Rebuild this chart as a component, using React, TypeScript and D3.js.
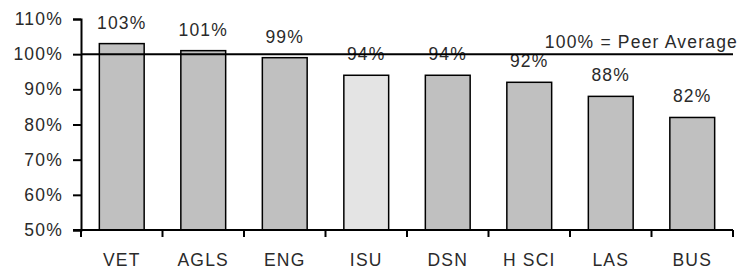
import React, { useEffect, useRef } from 'react'
import * as d3 from 'd3'

const colleges = ['VET', 'AGLS', 'ENG', 'ISU', 'DSN', 'H SCI', 'LAS', 'BUS']
const peerRatios = [103, 101, 99, 94, 94, 92, 88, 82]
const highlighted = ['ISU']
const yTicks = [50, 60, 70, 80, 90, 100, 110]
const peerLevel = 100
const peerLabel = '100% = Peer Average'

const App: React.FC = () => {
  const ref = useRef<SVGSVGElement | null>(null)

  useEffect(() => {
    if (!ref.current) {
      return
    }

    const width = 752
    const height = 271
    const margin = { top: 19, right: 19, bottom: 41, left: 81 }
    const chartWidth = width - margin.left - margin.right
    const chartHeight = height - margin.top - margin.bottom
    const font = '"Liberation Sans", Arial, sans-serif'
    const fontSize = 17.5
    const spacing = 1.2
    const ink = '#2a2a2a'

    const svg = d3.select(ref.current)
    svg.attr('viewBox', `0 0 ${width} ${height}`)
    svg.selectAll('*').remove()

    const xScale = d3
      .scaleBand()
      .domain(colleges)
      .range([0, chartWidth])
      .paddingInner(0.45)
      .paddingOuter(0.225)

    const yScale = d3.scaleLinear().domain([50, 110]).range([chartHeight, 0])

    const g = svg.append('g').attr('transform', `translate(${margin.left},${margin.top})`)

    // bars
    g.selectAll('rect.bar')
      .data(colleges)
      .enter()
      .append('rect')
      .attr('class', 'bar')
      .attr('x', (d) => xScale(d) ?? 0)
      .attr('y', (_, i) => yScale(peerRatios[i]))
      .attr('width', xScale.bandwidth())
      .attr('height', (_, i) => chartHeight - yScale(peerRatios[i]))
      .attr('fill', (d) => (highlighted.includes(d) ? '#e4e4e4' : '#c0c0c0'))
      .attr('stroke', '#000')
      .attr('stroke-width', 1.5)

    // value labels
    g.selectAll('text.value')
      .data(colleges)
      .enter()
      .append('text')
      .attr('class', 'value')
      .attr('x', (d) => (xScale(d) ?? 0) + xScale.bandwidth() / 2)
      .attr('y', (_, i) => yScale(peerRatios[i]) - 15)
      .attr('text-anchor', 'middle')
      .attr('font-family', font)
      .attr('font-size', fontSize)
      .attr('letter-spacing', spacing)
      .attr('fill', ink)
      .text((_, i) => `${peerRatios[i]}%`)

    // peer average line
    g.append('line')
      .attr('x1', 0)
      .attr('x2', chartWidth)
      .attr('y1', yScale(peerLevel))
      .attr('y2', yScale(peerLevel))
      .attr('stroke', '#000')
      .attr('stroke-width', 2)

    g.append('text')
      .attr('x', chartWidth + 5)
      .attr('y', yScale(peerLevel) - 6)
      .attr('text-anchor', 'end')
      .attr('font-family', font)
      .attr('font-size', fontSize)
      .attr('letter-spacing', spacing)
      .attr('fill', ink)
      .text(peerLabel)

    // y axis
    const yAxis = g
      .append('g')
      .call(
        d3
          .axisLeft(yScale)
          .tickValues(yTicks)
          .tickSize(8)
          .tickPadding(10)
          .tickFormat((d) => `${d}%`)
      )
    yAxis.select('.domain').attr('stroke', '#000').attr('stroke-width', 2)
    yAxis.selectAll('.tick line').attr('stroke', '#000').attr('stroke-width', 2)
    yAxis
      .selectAll('.tick text')
      .attr('font-family', font)
      .attr('font-size', fontSize)
      .attr('letter-spacing', spacing)
      .attr('fill', ink)

    // x axis with ticks at category boundaries
    const xAxisG = g.append('g').attr('transform', `translate(0,${chartHeight})`)
    xAxisG
      .append('line')
      .attr('x1', -8)
      .attr('x2', chartWidth)
      .attr('stroke', '#000')
      .attr('stroke-width', 2)

    xAxisG
      .selectAll('line.tick')
      .data(d3.range(colleges.length + 1))
      .enter()
      .append('line')
      .attr('class', 'tick')
      .attr('x1', (i) => i * xScale.step())
      .attr('x2', (i) => i * xScale.step())
      .attr('y1', 0)
      .attr('y2', 7)
      .attr('stroke', '#000')
      .attr('stroke-width', 2)

    xAxisG
      .selectAll('text.label')
      .data(colleges)
      .enter()
      .append('text')
      .attr('class', 'label')
      .attr('x', (d) => (xScale(d) ?? 0) + xScale.bandwidth() / 2)
      .attr('y', 36)
      .attr('text-anchor', 'middle')
      .attr('font-family', font)
      .attr('font-size', fontSize)
      .attr('letter-spacing', spacing)
      .attr('fill', ink)
      .text((d) => d)
  }, [])

  return (
    <svg
      ref={ref}
      width={752}
      height={271}
      style={{ position: 'absolute', left: 0, top: 0, background: '#fff' }}
      role="img"
      aria-label="Peer ratio by college"
    />
  )
}

export default App
